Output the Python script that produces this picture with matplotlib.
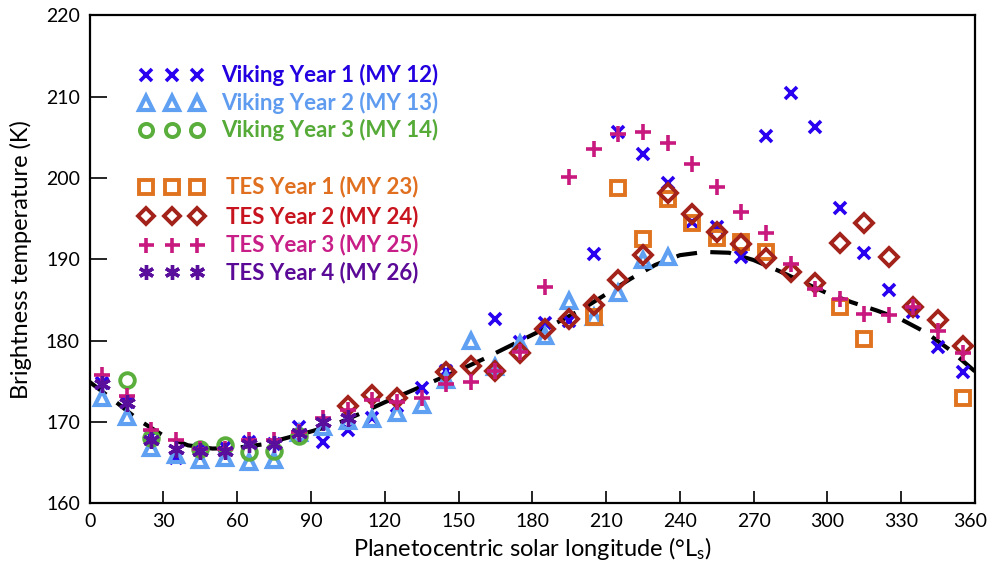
import matplotlib
matplotlib.use("Agg")
import matplotlib.pyplot as plt
from matplotlib.transforms import ScaledTranslation
import numpy as np

plt.rcParams['font.family'] = ['Lato', 'DejaVu Sans']
plt.rcParams['mathtext.fontset'] = 'custom'
plt.rcParams['mathtext.rm'] = 'Lato'
plt.rcParams['mathtext.it'] = 'Lato'

# ---- data (Ls in degrees, brightness temperature in K) ----
viking1_ls = [5, 15, 25, 35, 45, 55, 65, 75, 85, 95, 105, 115, 125, 135, 145,
              165, 175, 185, 195, 205, 215, 225, 235, 245, 255, 265, 275, 285,
              295, 305, 315, 325, 335, 345, 355]
viking1_t = [174.8, 172.4, 168.2, 165.6, 166.6, 166.9, 167.5, 167.3, 169.3, 167.5,
             169.0, 170.5, 172.0, 174.2, 176.2, 182.7, 179.8, 182.2, 182.4, 190.7,
             205.6, 202.9, 199.4, 194.6, 194.0, 190.3, 205.2, 210.5, 206.3, 196.3,
             190.8, 186.2, 183.5, 179.2, 176.1]

viking2_ls = [5, 15, 25, 35, 45, 55, 65, 75, 85, 95, 105, 115, 125, 135, 145,
              155, 165, 175, 185, 195, 205, 215, 225, 235]
viking2_t = [172.9, 170.6, 166.8, 165.9, 165.3, 165.5, 165.1, 165.3, 168.6, 169.4,
             170.1, 170.3, 171.1, 172.1, 175.1, 180.0, 176.8, 179.6, 180.5, 184.9,
             182.9, 185.9, 189.9, 190.3]

viking3_ls = [15, 25, 45, 55, 65, 75, 85]
viking3_t = [175.2, 168.0, 166.6, 167.1, 166.3, 166.4, 168.3]

tes1_ls = [205, 215, 225, 235, 245, 255, 265, 275, 305, 315, 355]
tes1_t = [182.9, 198.8, 192.5, 197.4, 194.5, 192.6, 192.1, 190.9, 184.1, 180.2, 172.9]

tes2_ls = [105, 115, 125, 145, 155, 165, 175, 185, 195, 205, 215, 225, 235, 245,
           255, 265, 275, 285, 295, 305, 315, 325, 335, 345, 355]
tes2_t = [172.0, 173.3, 172.9, 176.1, 176.9, 176.2, 178.5, 181.4, 182.7, 184.4,
          187.4, 190.5, 198.2, 195.6, 193.4, 191.9, 190.2, 188.4, 187.1, 192.0,
          194.4, 190.3, 184.1, 182.5, 179.3]

tes3_ls = [5, 15, 25, 35, 45, 55, 65, 75, 85, 95, 105, 115, 125, 135, 145, 155,
           165, 175, 185, 195, 205, 215, 225, 235, 245, 255, 265, 275, 285, 295,
           305, 315, 325, 335, 345, 355]
tes3_t = [175.8, 173.2, 169.0, 167.8, 166.6, 166.6, 167.7, 167.8, 168.8, 170.5,
          171.5, 172.7, 172.4, 172.9, 174.6, 174.9, 176.2, 178.6, 186.6, 200.1,
          203.6, 205.4, 205.7, 204.3, 201.7, 198.9, 195.8, 193.2, 189.4, 186.3,
          185.1, 183.3, 183.2, 184.1, 181.2, 178.5]

tes4_ls = [5, 15, 25, 35, 45, 55, 65, 75, 85, 95, 105]
tes4_t = [174.6, 172.3, 167.8, 166.6, 166.4, 166.4, 167.3, 167.3, 168.6, 170.0, 170.5]

fit_ls = [0, 10, 20, 30, 40, 50, 60, 70, 80, 90, 100, 110, 120, 130, 140, 150,
          160, 170, 180, 190, 200, 210, 220, 230, 240, 250, 260, 270, 280, 290,
          300, 310, 320, 330, 340, 350, 360]
fit_t = [174.9, 172.6, 170.2, 168.3, 167.1, 166.7, 166.8, 167.2, 168.0, 168.8,
         169.7, 171.0, 172.4, 173.7, 175.0, 176.3, 177.7, 179.2, 180.7, 182.2,
         183.8, 185.7, 187.6, 189.3, 190.5, 190.9, 190.8, 189.9, 188.6, 187.2,
         185.8, 184.7, 183.7, 182.6, 181.0, 178.8, 176.2]

labels = ["Viking Year 1 (MY 12)", "Viking Year 2 (MY 13)", "Viking Year 3 (MY 14)",
          "TES Year 1 (MY 23)", "TES Year 2 (MY 24)", "TES Year 3 (MY 25)",
          "TES Year 4 (MY 26)"]
x_ticks = [0, 30, 60, 90, 120, 150, 180, 210, 240, 270, 300, 330, 360]
y_ticks = [160, 170, 180, 190, 200, 210, 220]

# ---- styles ----
c_v1, c_v2, c_v3 = '#2a00f0', '#5fa0f2', '#5aae3c'
c_t1, c_t2, c_t3, c_t4 = '#e0731f', '#a3221a', '#c8197f', '#5a0e9c'
txt_colors = ['#2200e0', '#5f9cf0', '#55aa38', '#e0701f', '#c8141e', '#c81e87', '#5a0a96']

styles = [
    dict(marker='x', ms=9, mew=2.6, color=c_v1, mfc=c_v1),
    dict(marker='^', ms=10.5, mew=3.0, color=c_v2, mfc='none'),
    dict(marker='o', ms=10.5, mew=2.8, color=c_v3, mfc='none'),
    dict(marker='s', ms=10.5, mew=2.8, color=c_t1, mfc='none'),
    dict(marker='D', ms=9.0, mew=2.8, color=c_t2, mfc='none'),
    dict(marker='+', ms=12, mew=2.6, color=c_t3, mfc=c_t3),
    dict(marker=(6, 2, 0), ms=12, mew=2.4, color=c_t4, mfc=c_t4),
]

fig = plt.figure(figsize=(9.88, 5.65), dpi=100)
ax = fig.add_axes([0.0907, 0.1097, 0.8961, 0.8629])

ax.plot(fit_ls, fit_t, color='black', lw=3.0, dashes=(5, 3.2), zorder=1)

series = [(viking1_ls, viking1_t), (viking2_ls, viking2_t), (viking3_ls, viking3_t),
          (tes1_ls, tes1_t), (tes2_ls, tes2_t), (tes3_ls, tes3_t), (tes4_ls, tes4_t)]
for (xs, ys), st in zip(series, styles):
    ax.plot(xs, ys, ls='none', marker=st['marker'], ms=st['ms'], mew=st['mew'],
            mec=st['color'], mfc=st['mfc'], zorder=3)

# ---- manual legend ----
leg_y = [212.7, 209.2, 205.9, 198.9, 195.3, 191.8, 188.4]
leg_mx = [23.0, 33.5, 43.5]
leg_tx = [53.5, 53.5, 53.5, 55.5, 55.5, 55.5, 55.5]
for i, st in enumerate(styles):
    ms = st['ms'] * 0.9
    ax.plot(leg_mx, [leg_y[i]] * 3, ls='none', marker=st['marker'], ms=ms, mew=st['mew'],
            mec=st['color'], mfc=st['mfc'], zorder=3, clip_on=False)
    ax.text(leg_tx[i], leg_y[i], labels[i], color=txt_colors[i], fontsize=16,
            fontweight='bold', va='center', ha='left')

ax.set_xlim(0, 360)
ax.set_ylim(160, 220)
ax.set_xticks(x_ticks)
ax.set_yticks(y_ticks)
for s in ax.spines.values():
    s.set_linewidth(1.6)
ax.tick_params(axis='both', direction='in', width=1.2, labelsize=14, pad=7,
               top=False, right=False)
ax.tick_params(axis='y', length=12)
ax.tick_params(axis='x', length=9)
ax.set_xlabel(r'Planetocentric solar longitude (°L$_\mathrm{s}$)', fontsize=17, labelpad=4)
ax.set_ylabel('Brightness temperature (K)', fontsize=17, labelpad=10)

last = ax.get_xticklabels()[-1]
last.set_transform(last.get_transform() + ScaledTranslation(-5 / 100, 0, fig.dpi_scale_trans))

fig.savefig('out.png', dpi=100)
